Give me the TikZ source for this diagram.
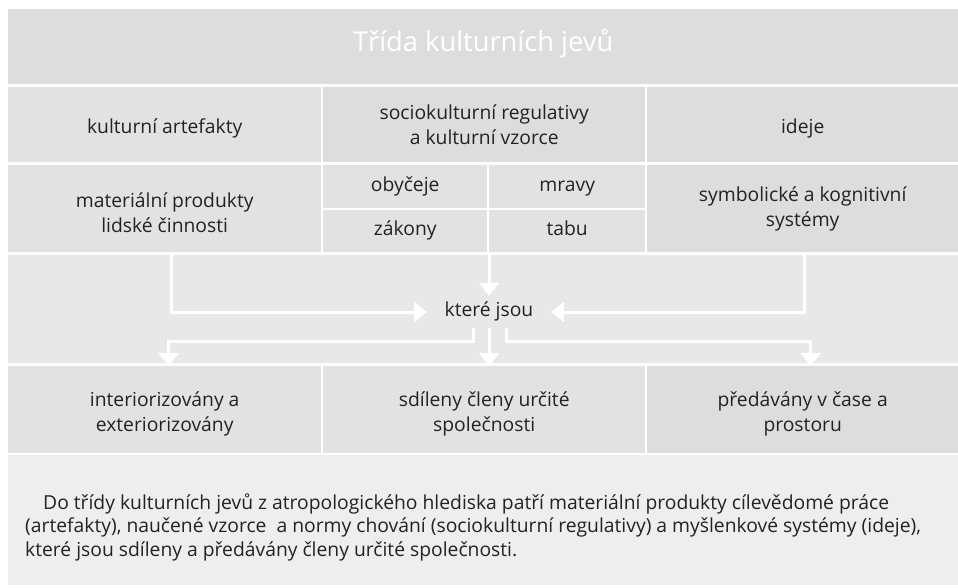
\documentclass[tikz,border=0pt]{standalone}
\usepackage{fontspec}
\setmainfont{Open Sans}
\usetikzlibrary{arrows.meta,positioning}
\definecolor{bandgray}{HTML}{DDDDDD}
\definecolor{cellA}{HTML}{E2E2E2}
\definecolor{cellB}{HTML}{DDDDDD}
\definecolor{cellC}{HTML}{DCDDDC}
\definecolor{flowgray}{HTML}{E8E8E8}
\definecolor{notegray}{HTML}{EEEEEE}
\definecolor{ink}{HTML}{222222}
\newcommand\dnstrut{\rule{0pt}{23pt}}

\begin{document}
\begin{tikzpicture}[x=1pt,y=-1pt,
    box/.style={rectangle,inner sep=0pt,anchor=north west,align=center,text=ink,
      font=\fontsize{19.3}{25.5}\selectfont},
    one/.style={text height=14pt,text depth=5pt},
    onelow/.style={text height=22pt,text depth=5pt},
    arr/.style={draw=white,line width=3pt,-{Triangle[width=20pt,length=13pt]}}]
   \useasboundingbox (0,0) rectangle (958,587);
   % title band
   \node[box,one,fill=bandgray,minimum width=950pt,minimum height=75pt,text=white,
     font=\fontsize{27.3}{30}\selectfont] (title) at (8,9) {Třída kulturních jevů};
   % second row
   \node[box,onelow,fill=cellA,minimum width=313pt,minimum height=75pt] (art) at (8,87) {kulturní artefakty};
   \node[box,fill=cellB,minimum width=322pt,minimum height=75pt] (reg) at (323,87) {sociokulturní regulativy\\a kulturní vzorce};
   \node[box,onelow,fill=cellC,minimum width=311pt,minimum height=75pt] (ide) at (647,87) {ideje};
   % third row
   \node[box,fill=cellA,minimum width=313pt,minimum height=87pt] (mat) at (8,165) {\dnstrut materiální produkty\\lidské činnosti};
   \node[box,one,fill=cellA,minimum width=164pt,minimum height=43pt] (oby) at (323,165) {obyčeje};
   \node[box,one,fill=cellA,minimum width=156pt,minimum height=43pt] (mra) at (489,165) {mravy};
   \node[box,one,fill=cellA,minimum width=164pt,minimum height=42pt] (zak) at (323,210) {zákony};
   \node[box,one,fill=cellA,minimum width=156pt,minimum height=42pt] (tab) at (489,210) {tabu};
   \node[box,fill=cellC,minimum width=311pt,minimum height=87pt] (sym) at (647,165) {symbolické a kognitivní\\systémy};
   % flow
   \node[box,fill=flowgray,minimum width=950pt,minimum height=108pt] (flow) at (8,255) {};
   \node[box,one,anchor=center,minimum width=124pt,minimum height=32pt] (kj) at (489,312) {které jsou};
   % fourth row
   \node[box,fill=cellA,minimum width=313pt,minimum height=87pt] (int) at (8,366) {\dnstrut interiorizovány a\\exteriorizovány};
   \node[box,fill=cellA,minimum width=322pt,minimum height=87pt] (sdi) at (323,366) {\dnstrut sdíleny členy určité\\společnosti};
   \node[box,fill=cellC,minimum width=311pt,minimum height=87pt] (pre) at (647,366) {\dnstrut předávány v čase a\\prostoru};
   % note
   \node[box,fill=notegray,minimum width=950pt,minimum height=130pt] (note) at (8,455) {};
   \node[anchor=west,align=left,inner sep=0pt,text=ink,font=\fontsize{19.3}{23.5}\selectfont]
     (notetext) at (25,527) {\hspace*{18pt}Do třídy kulturních jevů z atropologického hlediska patří materiální produkty cílevědomé práce\\
     (artefakty), naučené vzorce\ \ a normy chování (sociokulturní regulativy) a myšlenkové systémy (ideje),\\
     které jsou sdíleny a předávány členy určité společnosti.};
   % arrows
   \draw[arr] ([xshift=7pt]mat.south) |- (kj.west);
   \draw[arr] (tab.south west) -- (tab.south west |- kj.north);
   \draw[arr] ([xshift=2pt]sym.south) |- (kj.east);
   \draw[arr] ([xshift=-16pt]kj.south) -- ++(0,13) -| ([xshift=4pt]int.north);
   \draw[arr] (kj.south) -- (kj.south |- sdi.north);
   \draw[arr] ([xshift=17pt]kj.south) -- ++(0,13) -| ([xshift=8pt]pre.north);
\end{tikzpicture}
\end{document}
